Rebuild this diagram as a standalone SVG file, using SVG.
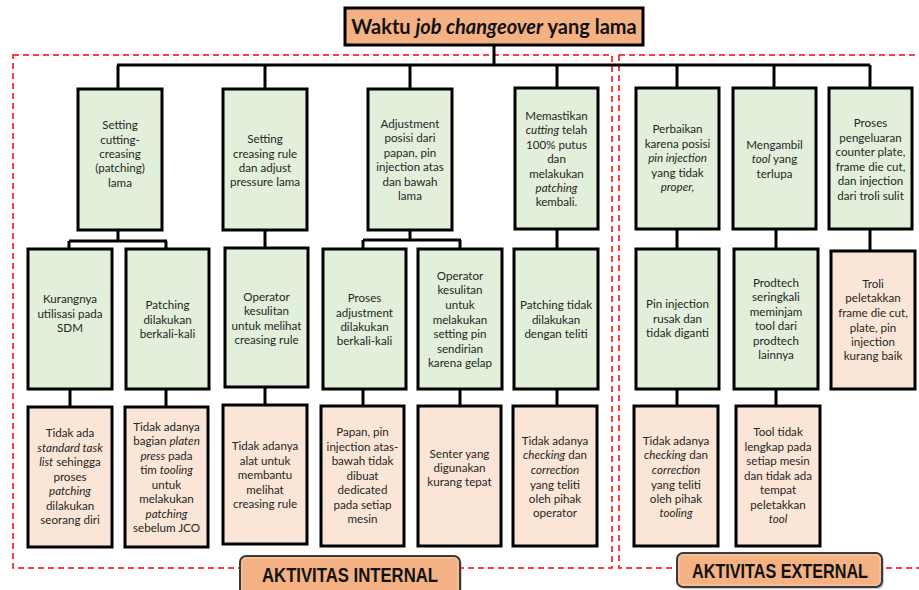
<svg xmlns="http://www.w3.org/2000/svg" width="919" height="590" viewBox="0 0 919 590">
<style>
.g{fill:#E2EFDA;stroke:#000;stroke-width:3}
.o{fill:#FBE5D6;stroke:#000;stroke-width:3}
.t{font-family:Lato,"Liberation Sans",sans-serif;font-size:11.6px;fill:#262626;text-anchor:middle}
.c{fill:none;stroke:#000;stroke-width:3}
.d{fill:none;stroke:#FF0000;stroke-width:1.5;stroke-dasharray:6,4}
.lbl{fill:#F4B183;stroke:#3A3A3A;stroke-width:2}
.lt{font-family:"Liberation Sans",Arial,sans-serif;font-weight:bold;font-size:20px;fill:#111;text-anchor:middle}
</style>
<rect width="919" height="590" fill="#fff"/>
<g id="regions">
<rect class="d" x="13" y="55" width="599" height="513"/>
<rect class="d" x="619" y="55" width="320" height="513"/>
</g>
<g id="connectors">
<path class="c" d="M494,45V65M117,65H870M118,65V89M265,65V89M410,65V89M557,65V88M677,65V88M774,65V88M870,65V88"/>
<path class="c" d="M118,230V241M69,241H167M69,241V249M166,241V249M265,230V248M410,230V240M363,240H461M363,240V249M460,240V249M557,229V249M677,229V249M776,229V249M870,229V251"/>
<path class="c" d="M70,389V407M166,389V407M265,387V405M363,389V406M460,389V406M557,389V406M677,389V406M776,389V406"/>
</g>
<g id="title">
<rect x="345" y="8" width="298" height="37" fill="#F4B183" stroke="#000" stroke-width="3"/>
<text x="494" y="34" font-family="Lato,Liberation Sans,sans-serif" font-size="20" font-weight="bold" fill="#111" text-anchor="middle">Waktu <tspan font-style="italic">job changeover</tspan> yang lama</text>
</g>
<g id="n1"><rect class="g" x="78" y="89" width="84" height="141"/>
<text class="t"><tspan x="120" y="129">Setting</tspan><tspan x="120" y="144">cutting-</tspan><tspan x="120" y="158">creasing</tspan><tspan x="120" y="172">(patching)</tspan><tspan x="120" y="187">lama</tspan></text></g>
<g id="n2"><rect class="g" x="223" y="89" width="84" height="141"/>
<text class="t"><tspan x="265" y="143">Setting</tspan><tspan x="265" y="158">creasing rule</tspan><tspan x="265" y="172">dan adjust</tspan><tspan x="265" y="186">pressure lama</tspan></text></g>
<g id="n3"><rect class="g" x="368" y="89" width="84" height="141"/>
<text class="t"><tspan x="410" y="127.5">Adjustment</tspan><tspan x="410" y="142">posisi dari</tspan><tspan x="410" y="156.5">papan, pin</tspan><tspan x="410" y="171">injection atas</tspan><tspan x="410" y="185.5">dan bawah</tspan><tspan x="410" y="200">lama</tspan></text></g>
<g id="n4"><rect class="g" x="515" y="88" width="83" height="141"/>
<text class="t"><tspan x="556.5" y="119.5">Memastikan</tspan><tspan x="556.5" y="134"><tspan font-style="italic">cutting</tspan> telah</tspan><tspan x="556.5" y="148.5">100% putus</tspan><tspan x="556.5" y="163">dan</tspan><tspan x="556.5" y="177.5">melakukan</tspan><tspan x="556.5" y="192" font-style="italic">patching</tspan><tspan x="556.5" y="206">kembali.</tspan></text></g>
<g id="n5"><rect class="g" x="636" y="88" width="83" height="141"/>
<text class="t"><tspan x="677.5" y="133">Perbaikan</tspan><tspan x="677.5" y="148">karena posisi</tspan><tspan x="677.5" y="162" font-style="italic">pin injection</tspan><tspan x="677.5" y="176.5">yang tidak</tspan><tspan x="677.5" y="191" font-style="italic">proper,</tspan></text></g>
<g id="n6"><rect class="g" x="733" y="88" width="83" height="141"/>
<text class="t"><tspan x="774.5" y="148.5">Mengambil</tspan><tspan x="774.5" y="163"><tspan font-style="italic">tool</tspan> yang</tspan><tspan x="774.5" y="177.5">terlupa</tspan></text></g>
<g id="n7"><rect class="g" x="829" y="88" width="83" height="141"/>
<text class="t"><tspan x="870.5" y="127">Proses</tspan><tspan x="870.5" y="141.5">pengeluaran</tspan><tspan x="870.5" y="156">counter plate,</tspan><tspan x="870.5" y="170.5">frame die cut,</tspan><tspan x="870.5" y="185">dan injection</tspan><tspan x="870.5" y="199.5">dari troli sulit</tspan></text></g>
<g id="n2a"><rect class="g" x="28" y="249" width="84" height="140"/>
<text class="t"><tspan x="70" y="303">Kurangnya</tspan><tspan x="70" y="317.5">utilisasi pada</tspan><tspan x="70" y="332">SDM</tspan></text></g>
<g id="n2b"><rect class="g" x="126" y="249" width="83" height="140"/>
<text class="t"><tspan x="167.5" y="309">Patching</tspan><tspan x="167.5" y="323.5">dilakukan</tspan><tspan x="167.5" y="338">berkali-kali</tspan></text></g>
<g id="n2c"><rect class="g" x="225" y="248" width="83" height="139"/>
<text class="t"><tspan x="266.5" y="301">Operator</tspan><tspan x="266.5" y="315">kesulitan</tspan><tspan x="266.5" y="330">untuk melihat</tspan><tspan x="266.5" y="344">creasing rule</tspan></text></g>
<g id="n2d"><rect class="g" x="323" y="249" width="83" height="140"/>
<text class="t"><tspan x="364.5" y="302">Proses</tspan><tspan x="364.5" y="316.5">adjustment</tspan><tspan x="364.5" y="331">dilakukan</tspan><tspan x="364.5" y="345">berkali-kali</tspan></text></g>
<g id="n2e"><rect class="g" x="418" y="249" width="84" height="140"/>
<text class="t"><tspan x="460" y="280">Operator</tspan><tspan x="460" y="294">kesulitan</tspan><tspan x="460" y="309">untuk</tspan><tspan x="460" y="323.5">melakukan</tspan><tspan x="460" y="338">setting pin</tspan><tspan x="460" y="352.5">sendirian</tspan><tspan x="460" y="367">karena gelap</tspan></text></g>
<g id="n2f"><rect class="g" x="514" y="249" width="84" height="140"/>
<text class="t"><tspan x="556" y="309">Patching tidak</tspan><tspan x="556" y="323.5">dilakukan</tspan><tspan x="556" y="338">dengan teliti</tspan></text></g>
<g id="n2g"><rect class="g" x="636" y="249" width="83" height="140"/>
<text class="t"><tspan x="677.5" y="308">Pin injection</tspan><tspan x="677.5" y="322.5">rusak dan</tspan><tspan x="677.5" y="337">tidak diganti</tspan></text></g>
<g id="n2h"><rect class="g" x="734" y="249" width="84" height="140"/>
<text class="t"><tspan x="776" y="287">Prodtech</tspan><tspan x="776" y="301">seringkali</tspan><tspan x="776" y="316">meminjam</tspan><tspan x="776" y="330">tool dari</tspan><tspan x="776" y="345">prodtech</tspan><tspan x="776" y="359">lainnya</tspan></text></g>
<g id="n2i"><rect class="o" x="831" y="251" width="84" height="138"/>
<text class="t"><tspan x="873" y="288">Troli</tspan><tspan x="873" y="302">peletakkan</tspan><tspan x="873" y="317">frame die cut,</tspan><tspan x="873" y="331.5">plate, pin</tspan><tspan x="873" y="346">injection</tspan><tspan x="873" y="360">kurang baik</tspan></text></g>
<g id="n3a"><rect class="o" x="28" y="407" width="84" height="140"/>
<text class="t"><tspan x="70" y="437">Tidak ada</tspan><tspan x="70" y="452" font-style="italic">standard task</tspan><tspan x="70" y="466"><tspan font-style="italic">list</tspan> sehingga</tspan><tspan x="70" y="481">proses</tspan><tspan x="70" y="495" font-style="italic">patching</tspan><tspan x="70" y="510">dilakukan</tspan><tspan x="70" y="524">seorang diri</tspan></text></g>
<g id="n3b"><rect class="o" x="125" y="407" width="83" height="140"/>
<text class="t"><tspan x="166.5" y="431">Tidak adanya</tspan><tspan x="166.5" y="445">bagian <tspan font-style="italic">platen</tspan></tspan><tspan x="166.5" y="460"><tspan font-style="italic">press</tspan> pada</tspan><tspan x="166.5" y="474">tim <tspan font-style="italic">tooling</tspan></tspan><tspan x="166.5" y="489">untuk</tspan><tspan x="166.5" y="503">melakukan</tspan><tspan x="166.5" y="518" font-style="italic">patching</tspan><tspan x="166.5" y="532">sebelum JCO</tspan></text></g>
<g id="n3c"><rect class="o" x="223" y="405" width="84" height="139"/>
<text class="t"><tspan x="265" y="450">Tidak adanya</tspan><tspan x="265" y="465">alat untuk</tspan><tspan x="265" y="479">membantu</tspan><tspan x="265" y="494">melihat</tspan><tspan x="265" y="508">creasing rule</tspan></text></g>
<g id="n3d"><rect class="o" x="321" y="406" width="83" height="140"/>
<text class="t"><tspan x="362.5" y="436">Papan, pin</tspan><tspan x="362.5" y="451">injection atas-</tspan><tspan x="362.5" y="465">bawah tidak</tspan><tspan x="362.5" y="479.5">dibuat</tspan><tspan x="362.5" y="494">dedicated</tspan><tspan x="362.5" y="509">pada setiap</tspan><tspan x="362.5" y="523">mesin</tspan></text></g>
<g id="n3e"><rect class="o" x="418" y="406" width="83" height="140"/>
<text class="t"><tspan x="459.5" y="457.5">Senter yang</tspan><tspan x="459.5" y="472">digunakan</tspan><tspan x="459.5" y="486">kurang tepat</tspan></text></g>
<g id="n3f"><rect class="o" x="513" y="406" width="84" height="140"/>
<text class="t"><tspan x="555" y="445">Tidak adanya</tspan><tspan x="555" y="459"><tspan font-style="italic">checking</tspan> dan</tspan><tspan x="555" y="474" font-style="italic">correction</tspan><tspan x="555" y="488.5">yang teliti</tspan><tspan x="555" y="503">oleh pihak</tspan><tspan x="555" y="517">operator</tspan></text></g>
<g id="n3g"><rect class="o" x="634" y="406" width="84" height="140"/>
<text class="t"><tspan x="676" y="445">Tidak adanya</tspan><tspan x="676" y="459"><tspan font-style="italic">checking</tspan> dan</tspan><tspan x="676" y="474" font-style="italic">correction</tspan><tspan x="676" y="488.5">yang teliti</tspan><tspan x="676" y="503">oleh pihak</tspan><tspan x="676" y="517" font-style="italic">tooling</tspan></text></g>
<g id="n3h"><rect class="o" x="736" y="406" width="84" height="140"/>
<text class="t"><tspan x="778" y="436">Tool tidak</tspan><tspan x="778" y="451">lengkap pada</tspan><tspan x="778" y="465">setiap mesin</tspan><tspan x="778" y="480">dan tidak ada</tspan><tspan x="778" y="494">tempat</tspan><tspan x="778" y="509">peletakkan</tspan><tspan x="778" y="523" font-style="italic">tool</tspan></text></g>
<g id="label-internal">
<rect x="242" y="558" width="220" height="44" rx="6" fill="#9a9a9a" opacity="0.5"/>
<rect class="lbl" x="240" y="556" width="220" height="44" rx="6"/>
<rect x="242" y="558" width="216" height="40" rx="5" fill="none" stroke="#F8CBAD" stroke-width="1"/>
<text class="lt" x="350" y="582" textLength="176" lengthAdjust="spacingAndGlyphs">AKTIVITAS INTERNAL</text>
</g>
<g id="label-external">
<rect x="679" y="555" width="205" height="34" rx="6" fill="#9a9a9a" opacity="0.5"/>
<rect class="lbl" x="677" y="553" width="205" height="34" rx="6"/>
<rect x="679" y="555" width="201" height="30" rx="5" fill="none" stroke="#F8CBAD" stroke-width="1"/>
<text class="lt" x="780" y="578" textLength="176" lengthAdjust="spacingAndGlyphs">AKTIVITAS EXTERNAL</text>
</g>
</svg>
